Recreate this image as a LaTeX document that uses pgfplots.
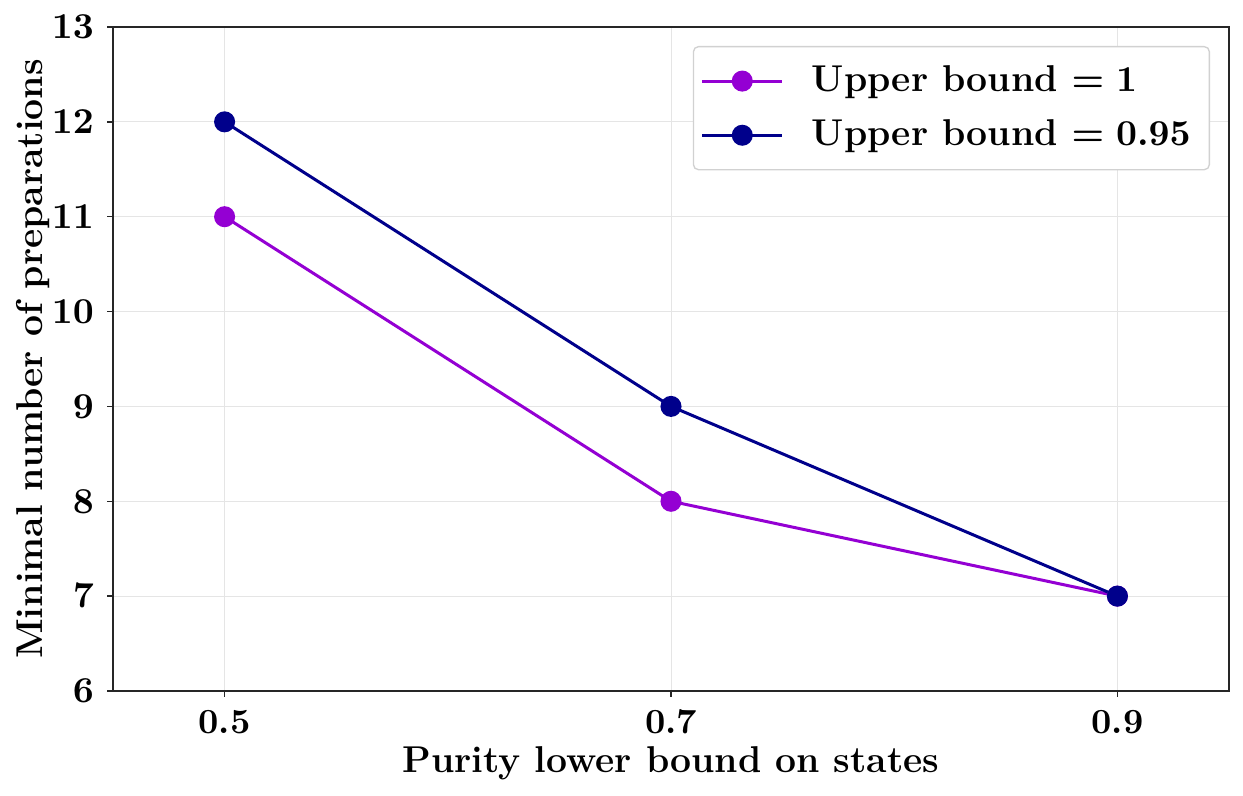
\documentclass[border=0pt]{standalone}
\usepackage{pgfplots}
\pgfplotsset{compat=1.18}
\definecolor{dviolet}{HTML}{9400D3}
\definecolor{dblue}{HTML}{00008B}
\begin{document}
\fontsize{11.2}{13}\selectfont\bfseries\boldmath
\begin{tikzpicture}
\begin{axis}[
  scale only axis,
  width=334.8pt, height=199.2pt,
  xmin=0.45, xmax=0.95, ymin=6, ymax=13,
  xtick={0.5,0.7,0.9},
  xticklabels={0.5,0.7,0.9},
  ytick={6,...,13},
  tick align=outside,
  tick pos=left,
  major tick length=1.8pt,
  axis line style={line width=0.4pt, black!85},
  tick style={black!85, line width=0.4pt},
  grid=major,
  grid style={line width=0.3pt, black!10},
  tick label style={font=\fontsize{10.6}{12}\selectfont\bfseries\boldmath},
  xlabel={Purity lower bound on states},
  ylabel={Minimal number of preparations},
  every axis x label/.style={at={(rel axis cs:0.5,0)}, anchor=center, yshift=-21.8pt},
  every axis y label/.style={at={(rel axis cs:0,0.5)}, anchor=center, rotate=90, yshift=24pt},
  legend style={at={(rel axis cs:1,1)}, anchor=north east, xshift=-5.7pt, yshift=-5.7pt,
    draw=black!18, rounded corners=1.5pt, inner sep=2.2pt,
    row sep=0pt, column sep=5pt,
    nodes={inner sep=3.4pt, minimum height=16.2pt},
    font=\fontsize{11.2}{13}\selectfont\bfseries\boldmath},
  legend cell align=left,
  legend image code/.code={
    \draw[#1, mark=none] (0pt,0pt) -- (24pt,0pt);
    \fill[#1] (12pt,0pt) circle (2.7pt);
  },
]
\addplot[dviolet, line width=0.9pt, mark=*, mark size=2.7pt, mark options={solid, fill=dviolet, draw=dviolet}]
  coordinates {(0.5,11) (0.7,8) (0.9,7)};
\addlegendentry{Upper bound $=1$}
\addplot[dblue, line width=0.9pt, mark=*, mark size=2.7pt, mark options={solid, fill=dblue, draw=dblue}]
  coordinates {(0.5,12) (0.7,9) (0.9,7)};
\addlegendentry{Upper bound $=0.95$}
\end{axis}
\pgfresetboundingbox
\path[use as bounding box] ([shift={(-33.9pt,-31.5pt)}]current axis.south west) rectangle ([shift={(4.2pt,8.1pt)}]current axis.north east);
\end{tikzpicture}
\end{document}
